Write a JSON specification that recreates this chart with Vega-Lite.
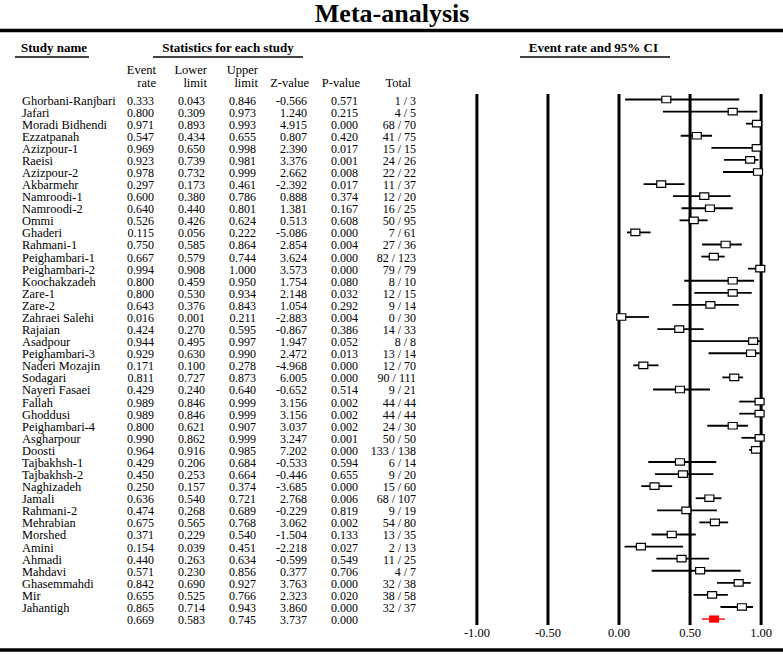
{
  "$schema": "https://vega.github.io/schema/vega-lite/v6.json",
  "width": 783,
  "height": 657,
  "padding": 0,
  "autosize": {"type": "none"},
  "background": "white",
  "config": {
    "view": {"stroke": null},
    "locale": {"number": {"decimal": ".", "thousands": ",", "grouping": [3], "currency": ["$", ""], "minus": "-"}},
    "mark": {"font": "Liberation Serif"},
    "text": {"font": "Liberation Serif", "fontSize": 12, "color": "black"}
  },
  "datasets": {
    "studies": [
      {"name": "Ghorbani-Ranjbari", "kind": "study", "er": 0.333, "lo": 0.043, "hi": 0.846, "z": -0.566, "p": 0.571, "tot": "1 / 3"},
      {"name": "Jafari", "kind": "study", "er": 0.800, "lo": 0.309, "hi": 0.973, "z": 1.240, "p": 0.215, "tot": "4 / 5"},
      {"name": "Moradi Bidhendi", "kind": "study", "er": 0.971, "lo": 0.893, "hi": 0.993, "z": 4.915, "p": 0.000, "tot": "68 / 70"},
      {"name": "Ezzatpanah", "kind": "study", "er": 0.547, "lo": 0.434, "hi": 0.655, "z": 0.807, "p": 0.420, "tot": "41 / 75"},
      {"name": "Azizpour-1", "kind": "study", "er": 0.969, "lo": 0.650, "hi": 0.998, "z": 2.390, "p": 0.017, "tot": "15 / 15"},
      {"name": "Raeisi", "kind": "study", "er": 0.923, "lo": 0.739, "hi": 0.981, "z": 3.376, "p": 0.001, "tot": "24 / 26"},
      {"name": "Azizpour-2", "kind": "study", "er": 0.978, "lo": 0.732, "hi": 0.999, "z": 2.662, "p": 0.008, "tot": "22 / 22"},
      {"name": "Akbarmehr", "kind": "study", "er": 0.297, "lo": 0.173, "hi": 0.461, "z": -2.392, "p": 0.017, "tot": "11 / 37"},
      {"name": "Namroodi-1", "kind": "study", "er": 0.600, "lo": 0.380, "hi": 0.786, "z": 0.888, "p": 0.374, "tot": "12 / 20"},
      {"name": "Namroodi-2", "kind": "study", "er": 0.640, "lo": 0.440, "hi": 0.801, "z": 1.381, "p": 0.167, "tot": "16 / 25"},
      {"name": "Ommi", "kind": "study", "er": 0.526, "lo": 0.426, "hi": 0.624, "z": 0.513, "p": 0.608, "tot": "50 / 95"},
      {"name": "Ghaderi", "kind": "study", "er": 0.115, "lo": 0.056, "hi": 0.222, "z": -5.086, "p": 0.000, "tot": "7 / 61"},
      {"name": "Rahmani-1", "kind": "study", "er": 0.750, "lo": 0.585, "hi": 0.864, "z": 2.854, "p": 0.004, "tot": "27 / 36"},
      {"name": "Peighambari-1", "kind": "study", "er": 0.667, "lo": 0.579, "hi": 0.744, "z": 3.624, "p": 0.000, "tot": "82 / 123"},
      {"name": "Peighambari-2", "kind": "study", "er": 0.994, "lo": 0.908, "hi": 1.000, "z": 3.573, "p": 0.000, "tot": "79 / 79"},
      {"name": "Koochakzadeh", "kind": "study", "er": 0.800, "lo": 0.459, "hi": 0.950, "z": 1.754, "p": 0.080, "tot": "8 / 10"},
      {"name": "Zare-1", "kind": "study", "er": 0.800, "lo": 0.530, "hi": 0.934, "z": 2.148, "p": 0.032, "tot": "12 / 15"},
      {"name": "Zare-2", "kind": "study", "er": 0.643, "lo": 0.376, "hi": 0.843, "z": 1.054, "p": 0.292, "tot": "9 / 14"},
      {"name": "Zahraei Salehi", "kind": "study", "er": 0.016, "lo": 0.001, "hi": 0.211, "z": -2.883, "p": 0.004, "tot": "0 / 30"},
      {"name": "Rajaian", "kind": "study", "er": 0.424, "lo": 0.270, "hi": 0.595, "z": -0.867, "p": 0.386, "tot": "14 / 33"},
      {"name": "Asadpour", "kind": "study", "er": 0.944, "lo": 0.495, "hi": 0.997, "z": 1.947, "p": 0.052, "tot": "8 / 8"},
      {"name": "Peighambari-3", "kind": "study", "er": 0.929, "lo": 0.630, "hi": 0.990, "z": 2.472, "p": 0.013, "tot": "13 / 14"},
      {"name": "Naderi Mozajin", "kind": "study", "er": 0.171, "lo": 0.100, "hi": 0.278, "z": -4.968, "p": 0.000, "tot": "12 / 70"},
      {"name": "Sodagari", "kind": "study", "er": 0.811, "lo": 0.727, "hi": 0.873, "z": 6.005, "p": 0.000, "tot": "90 / 111"},
      {"name": "Nayeri Fasaei", "kind": "study", "er": 0.429, "lo": 0.240, "hi": 0.640, "z": -0.652, "p": 0.514, "tot": "9 / 21"},
      {"name": "Fallah", "kind": "study", "er": 0.989, "lo": 0.846, "hi": 0.999, "z": 3.156, "p": 0.002, "tot": "44 / 44"},
      {"name": "Ghoddusi", "kind": "study", "er": 0.989, "lo": 0.846, "hi": 0.999, "z": 3.156, "p": 0.002, "tot": "44 / 44"},
      {"name": "Peighambari-4", "kind": "study", "er": 0.800, "lo": 0.621, "hi": 0.907, "z": 3.037, "p": 0.002, "tot": "24 / 30"},
      {"name": "Asgharpour", "kind": "study", "er": 0.990, "lo": 0.862, "hi": 0.999, "z": 3.247, "p": 0.001, "tot": "50 / 50"},
      {"name": "Doosti", "kind": "study", "er": 0.964, "lo": 0.916, "hi": 0.985, "z": 7.202, "p": 0.000, "tot": "133 / 138"},
      {"name": "Tajbakhsh-1", "kind": "study", "er": 0.429, "lo": 0.206, "hi": 0.684, "z": -0.533, "p": 0.594, "tot": "6 / 14"},
      {"name": "Tajbakhsh-2", "kind": "study", "er": 0.450, "lo": 0.253, "hi": 0.664, "z": -0.446, "p": 0.655, "tot": "9 / 20"},
      {"name": "Naghizadeh", "kind": "study", "er": 0.250, "lo": 0.157, "hi": 0.374, "z": -3.685, "p": 0.000, "tot": "15 / 60"},
      {"name": "Jamali", "kind": "study", "er": 0.636, "lo": 0.540, "hi": 0.721, "z": 2.768, "p": 0.006, "tot": "68 / 107"},
      {"name": "Rahmani-2", "kind": "study", "er": 0.474, "lo": 0.268, "hi": 0.689, "z": -0.229, "p": 0.819, "tot": "9 / 19"},
      {"name": "Mehrabian", "kind": "study", "er": 0.675, "lo": 0.565, "hi": 0.768, "z": 3.062, "p": 0.002, "tot": "54 / 80"},
      {"name": "Morshed", "kind": "study", "er": 0.371, "lo": 0.229, "hi": 0.540, "z": -1.504, "p": 0.133, "tot": "13 / 35"},
      {"name": "Amini", "kind": "study", "er": 0.154, "lo": 0.039, "hi": 0.451, "z": -2.218, "p": 0.027, "tot": "2 / 13"},
      {"name": "Ahmadi", "kind": "study", "er": 0.440, "lo": 0.263, "hi": 0.634, "z": -0.599, "p": 0.549, "tot": "11 / 25"},
      {"name": "Mahdavi", "kind": "study", "er": 0.571, "lo": 0.230, "hi": 0.856, "z": 0.377, "p": 0.706, "tot": "4 / 7"},
      {"name": "Ghasemmahdi", "kind": "study", "er": 0.842, "lo": 0.690, "hi": 0.927, "z": 3.763, "p": 0.000, "tot": "32 / 38"},
      {"name": "Mir", "kind": "study", "er": 0.655, "lo": 0.525, "hi": 0.766, "z": 2.323, "p": 0.020, "tot": "38 / 58"},
      {"name": "Jahantigh", "kind": "study", "er": 0.865, "lo": 0.714, "hi": 0.943, "z": 3.860, "p": 0.000, "tot": "32 / 37"},
      {"name": "", "kind": "pooled", "er": 0.669, "lo": 0.583, "hi": 0.745, "z": 3.737, "p": 0.000, "tot": ""}
    ],
    "ticks": [{"v": -1}, {"v": -0.5}, {"v": 0}, {"v": 0.5}, {"v": 1}],
    "hdr1": [{"key": "er", "t": "Event"}, {"key": "lo", "t": "Lower"}, {"key": "hi", "t": "Upper"}],
    "hdr2": [{"key": "er", "t": "rate"}, {"key": "lo", "t": "limit"}, {"key": "hi", "t": "limit"}, {"key": "z", "t": "Z-value"}, {"key": "p", "t": "P-value"}, {"key": "tot", "t": "Total"}],
    "one": [{}]
  },
  "resolve": {"scale": {"x": "independent"}},
  "layer": [
    {
      "layer": [
        {
          "data": {"name": "studies"},
          "transform": [
            {"window": [{"op": "row_number", "as": "i"}]},
            {"fold": ["er", "lo", "hi", "z", "p"], "as": ["key", "val"]}
          ],
          "mark": {"type": "text", "font": "Liberation Serif", "fontSize": 12, "align": "right", "baseline": "middle", "dy": 1},
          "encoding": {
            "x": {"field": "key", "type": "nominal", "axis": null, "scale": {"type": "point", "padding": 0, "domain": ["er", "lo", "hi", "z", "p", "tot"], "range": [154, 409]}},
            "y": {"field": "i", "type": "quantitative", "axis": null, "scale": {"domain": [-7.235, 47.14], "reverse": true, "nice": false, "zero": false}},
            "text": {"field": "val", "type": "quantitative", "format": ".3f"}
          }
        },
        {
          "data": {"name": "studies"},
          "transform": [{"window": [{"op": "row_number", "as": "i"}]}],
          "mark": {"type": "text", "font": "Liberation Serif", "fontSize": 12, "align": "right", "baseline": "middle", "dy": 1, "dx": 7},
          "encoding": {
            "x": {"datum": "tot", "type": "nominal", "axis": null, "scale": {"type": "point", "padding": 0, "domain": ["er", "lo", "hi", "z", "p", "tot"], "range": [154, 409]}},
            "y": {"field": "i", "type": "quantitative", "axis": null, "scale": {"domain": [-7.235, 47.14], "reverse": true, "nice": false, "zero": false}},
            "text": {"field": "tot", "type": "nominal"}
          }
        },
        {
          "data": {"name": "hdr1"},
          "mark": {"type": "text", "font": "Liberation Serif", "fontSize": 12.5, "align": "right", "baseline": "middle", "dx": 2},
          "encoding": {
            "x": {"field": "key", "type": "nominal", "axis": null, "scale": {"type": "point", "padding": 0, "domain": ["er", "lo", "hi", "z", "p", "tot"], "range": [154, 409]}},
            "y": {"datum": -1.44, "type": "quantitative", "axis": null, "scale": {"domain": [-7.235, 47.14], "reverse": true, "nice": false, "zero": false}},
            "text": {"field": "t", "type": "nominal"}
          }
        },
        {
          "data": {"name": "hdr2"},
          "mark": {"type": "text", "font": "Liberation Serif", "fontSize": 12.5, "align": "right", "baseline": "middle", "dx": 2},
          "encoding": {
            "x": {"field": "key", "type": "nominal", "axis": null, "scale": {"type": "point", "padding": 0, "domain": ["er", "lo", "hi", "z", "p", "tot"], "range": [154, 409]}},
            "y": {"datum": -0.37, "type": "quantitative", "axis": null, "scale": {"domain": [-7.235, 47.14], "reverse": true, "nice": false, "zero": false}},
            "text": {"field": "t", "type": "nominal"}
          }
        }
      ]
    },
    {
      "layer": [
        {
          "data": {"name": "ticks"},
          "mark": {"type": "rule", "strokeWidth": 3, "color": "black"},
          "encoding": {
            "x": {"field": "v", "type": "quantitative", "axis": null, "scale": {"domain": [-4.356, 1.154], "nice": false, "zero": false}},
            "y": {"datum": 0.55, "type": "quantitative", "axis": null, "scale": {"domain": [-7.235, 47.14], "reverse": true, "nice": false, "zero": false}},
            "y2": {"datum": 44.49}
          }
        },
        {
          "data": {"name": "ticks"},
          "mark": {"type": "text", "font": "Liberation Serif", "align": "center", "baseline": "middle", "fontSize": 12.5},
          "encoding": {
            "x": {"field": "v", "type": "quantitative", "axis": null, "scale": {"domain": [-4.356, 1.154], "nice": false, "zero": false}},
            "y": {"datum": 45.15, "type": "quantitative", "axis": null, "scale": {"domain": [-7.235, 47.14], "reverse": true, "nice": false, "zero": false}},
            "text": {"field": "v", "type": "quantitative", "format": ".2f"}
          }
        },
        {
          "data": {"name": "studies"},
          "transform": [{"window": [{"op": "row_number", "as": "i"}]}, {"filter": "datum.kind === 'study'"}],
          "mark": {"type": "rule", "strokeWidth": 1.8, "color": "black"},
          "encoding": {
            "x": {"field": "lo", "type": "quantitative", "axis": null, "scale": {"domain": [-4.356, 1.154], "nice": false, "zero": false}},
            "x2": {"field": "hi"},
            "y": {"field": "i", "type": "quantitative", "axis": null, "scale": {"domain": [-7.235, 47.14], "reverse": true, "nice": false, "zero": false}}
          }
        },
        {
          "data": {"name": "studies"},
          "transform": [{"window": [{"op": "row_number", "as": "i"}]}, {"filter": "datum.kind === 'study'"}],
          "mark": {"type": "point", "shape": "M-1,-0.72H1V0.72H-1Z", "filled": true, "fill": "white", "stroke": "black", "strokeWidth": 1.2, "size": 81, "opacity": 1},
          "encoding": {
            "x": {"field": "er", "type": "quantitative", "axis": null, "scale": {"domain": [-4.356, 1.154], "nice": false, "zero": false}},
            "y": {"field": "i", "type": "quantitative", "axis": null, "scale": {"domain": [-7.235, 47.14], "reverse": true, "nice": false, "zero": false}}
          }
        },
        {
          "data": {"name": "studies"},
          "transform": [{"window": [{"op": "row_number", "as": "i"}]}, {"filter": "datum.kind === 'pooled'"}],
          "mark": {"type": "rule", "strokeWidth": 1.4, "color": "#ff0000"},
          "encoding": {
            "x": {"field": "lo", "type": "quantitative", "axis": null, "scale": {"domain": [-4.356, 1.154], "nice": false, "zero": false}},
            "x2": {"field": "hi"},
            "y": {"field": "i", "type": "quantitative", "axis": null, "scale": {"domain": [-7.235, 47.14], "reverse": true, "nice": false, "zero": false}}
          }
        },
        {
          "data": {"name": "studies"},
          "transform": [{"window": [{"op": "row_number", "as": "i"}]}, {"filter": "datum.kind === 'pooled'"}],
          "mark": {"type": "point", "shape": "M-1,-0.72H1V0.72H-1Z", "filled": true, "fill": "#ff0000", "strokeWidth": 0, "size": 100, "opacity": 1},
          "encoding": {
            "x": {"field": "er", "type": "quantitative", "axis": null, "scale": {"domain": [-4.356, 1.154], "nice": false, "zero": false}},
            "y": {"field": "i", "type": "quantitative", "axis": null, "scale": {"domain": [-7.235, 47.14], "reverse": true, "nice": false, "zero": false}}
          }
        },
        {
          "data": {"name": "studies"},
          "transform": [{"window": [{"op": "row_number", "as": "i"}]}],
          "mark": {"type": "text", "font": "Liberation Serif", "fontSize": 12.4, "align": "left", "baseline": "middle", "dy": 1},
          "encoding": {
            "x": {"datum": -4.201, "type": "quantitative", "axis": null, "scale": {"domain": [-4.356, 1.154], "nice": false, "zero": false}},
            "y": {"field": "i", "type": "quantitative", "axis": null, "scale": {"domain": [-7.235, 47.14], "reverse": true, "nice": false, "zero": false}},
            "text": {"field": "name", "type": "nominal"}
          }
        },
        {
          "data": {"name": "one"},
          "mark": {"type": "text", "font": "Liberation Serif", "align": "center", "baseline": "middle", "fontSize": 26, "fontWeight": "bold", "text": "Meta-analysis"},
          "encoding": {
            "x": {"datum": -1.597, "type": "quantitative", "axis": null, "scale": {"domain": [-4.356, 1.154], "nice": false, "zero": false}},
            "y": {"datum": -6.07, "type": "quantitative", "axis": null, "scale": {"domain": [-7.235, 47.14], "reverse": true, "nice": false, "zero": false}}
          }
        },
        {
          "data": {"name": "one"},
          "mark": {"type": "text", "font": "Liberation Serif", "align": "center", "baseline": "middle", "fontSize": 13, "fontWeight": "bold", "text": "Study name"},
          "encoding": {
            "x": {"datum": -3.976, "type": "quantitative", "axis": null, "scale": {"domain": [-4.356, 1.154], "nice": false, "zero": false}},
            "y": {"datum": -3.26, "type": "quantitative", "axis": null, "scale": {"domain": [-7.235, 47.14], "reverse": true, "nice": false, "zero": false}}
          }
        },
        {
          "data": {"name": "one"},
          "mark": {"type": "text", "font": "Liberation Serif", "align": "center", "baseline": "middle", "fontSize": 13, "fontWeight": "bold", "text": "Statistics for each study"},
          "encoding": {
            "x": {"datum": -2.752, "type": "quantitative", "axis": null, "scale": {"domain": [-4.356, 1.154], "nice": false, "zero": false}},
            "y": {"datum": -3.26, "type": "quantitative", "axis": null, "scale": {"domain": [-7.235, 47.14], "reverse": true, "nice": false, "zero": false}}
          }
        },
        {
          "data": {"name": "one"},
          "mark": {"type": "text", "font": "Liberation Serif", "align": "center", "baseline": "middle", "fontSize": 13, "fontWeight": "bold", "text": "Event rate and 95% CI"},
          "encoding": {
            "x": {"datum": -0.18, "type": "quantitative", "axis": null, "scale": {"domain": [-4.356, 1.154], "nice": false, "zero": false}},
            "y": {"datum": -3.26, "type": "quantitative", "axis": null, "scale": {"domain": [-7.235, 47.14], "reverse": true, "nice": false, "zero": false}}
          }
        },
        {
          "data": {"name": "one"},
          "mark": {"type": "rule", "strokeWidth": 1.5, "color": "black"},
          "encoding": {
            "x": {"datum": -4.251, "type": "quantitative", "axis": null, "scale": {"domain": [-4.356, 1.154], "nice": false, "zero": false}},
            "x2": {"datum": -3.73},
            "y": {"datum": -2.52, "type": "quantitative", "axis": null, "scale": {"domain": [-7.235, 47.14], "reverse": true, "nice": false, "zero": false}}
          }
        },
        {
          "data": {"name": "one"},
          "mark": {"type": "rule", "strokeWidth": 1.5, "color": "black"},
          "encoding": {
            "x": {"datum": -3.279, "type": "quantitative", "axis": null, "scale": {"domain": [-4.356, 1.154], "nice": false, "zero": false}},
            "x2": {"datum": -2.224},
            "y": {"datum": -2.52, "type": "quantitative", "axis": null, "scale": {"domain": [-7.235, 47.14], "reverse": true, "nice": false, "zero": false}}
          }
        },
        {
          "data": {"name": "one"},
          "mark": {"type": "rule", "strokeWidth": 1.5, "color": "black"},
          "encoding": {
            "x": {"datum": -0.697, "type": "quantitative", "axis": null, "scale": {"domain": [-4.356, 1.154], "nice": false, "zero": false}},
            "x2": {"datum": 0.359},
            "y": {"datum": -2.52, "type": "quantitative", "axis": null, "scale": {"domain": [-7.235, 47.14], "reverse": true, "nice": false, "zero": false}}
          }
        },
        {
          "data": {"name": "one"},
          "mark": {"type": "rule", "strokeWidth": 3.5, "color": "black"},
          "encoding": {
            "y": {"datum": -4.71, "type": "quantitative", "axis": null, "scale": {"domain": [-7.235, 47.14], "reverse": true, "nice": false, "zero": false}}
          }
        },
        {
          "data": {"name": "one"},
          "mark": {"type": "rule", "strokeWidth": 3.5, "color": "black"},
          "encoding": {
            "y": {"datum": 46.56, "type": "quantitative", "axis": null, "scale": {"domain": [-7.235, 47.14], "reverse": true, "nice": false, "zero": false}}
          }
        }
      ]
    }
  ]
}
